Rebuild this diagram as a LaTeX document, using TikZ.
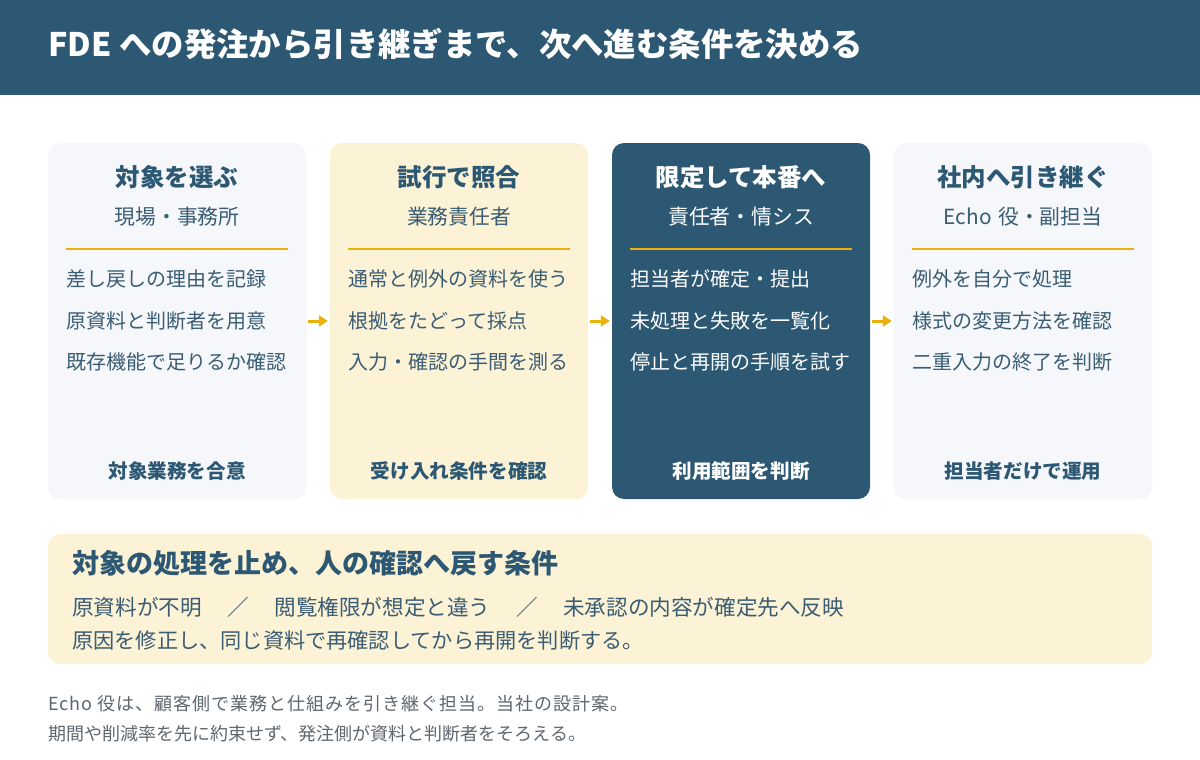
\documentclass[tikz,border=0pt]{standalone}
\usepackage{fontspec}
\setmainfont{Noto Sans CJK JP}
\newfontfamily\capone{Noto Sans CJK JP}[LetterSpace=5.5]
\usetikzlibrary{arrows.meta}
\definecolor{navy}{HTML}{2C5873}
\definecolor{txt}{HTML}{3A5D74}
\definecolor{light}{HTML}{F5F7FA}
\definecolor{cream}{HTML}{FCF2D6}
\definecolor{gold}{HTML}{E9B10A}
\definecolor{capc}{HTML}{5E666E}
\tikzset{
  panel/.style={rounded corners=12pt, minimum width=258pt, minimum height=356pt, inner sep=0pt, draw=none},
  ttl/.style={font=\fontsize{24.5}{29}\selectfont\bfseries, inner sep=0pt},
  sub/.style={font=\fontsize{20.8}{25}\selectfont, inner sep=0pt},
  item/.style={font=\fontsize{20}{24}\selectfont, anchor=west, inner sep=0pt},
  foot/.style={font=\fontsize{19.6}{23}\selectfont\bfseries, inner sep=0pt},
  rulel/.style={gold, line width=2pt},
  flow/.style={gold, line width=3pt, -{Triangle[length=9pt,width=11pt]}, shorten <=2pt, shorten >=2pt},
}
\begin{document}
\begin{tikzpicture}[x=1pt,y=-1pt]
\useasboundingbox[fill=white] (0,0) rectangle (1200,760);
% header
\fill[navy] (0,0) rectangle (1200,95);
\node[anchor=west, inner sep=0pt, text=white, font=\fontsize{32.4}{38}\selectfont\bfseries] (title) at (48,44) {FDE への発注から引き継ぎまで、次へ進む条件を決める};

% panels
\node[panel, fill=light] (b1) at (177,321) {};
\node[panel, fill=cream] (b2) at (459,321) {};
\node[panel, fill=navy] (b3) at (741,321) {};
\node[panel, fill=light] (b4) at (1023,321) {};

% column 1
\node[ttl, text=navy] (t1) at (177,177) {対象を選ぶ};
\node[sub, text=txt] (s1) at (177,217) {現場・事務所};
\draw[rulel] (66,249) -- (288,249);
\node[item, text=txt] (i11) at (66,279) {差し戻しの理由を記録};
\node[item, text=txt] (i12) at (66,321) {原資料と判断者を用意};
\node[item, text=txt] (i13) at (66,362) {既存機能で足りるか確認};
\node[foot, text=navy] (f1) at (177,471) {対象業務を合意};

% column 2
\node[ttl, text=navy] (t2) at (459,177) {試行で照合};
\node[sub, text=txt] (s2) at (459,217) {業務責任者};
\draw[rulel] (348,249) -- (570,249);
\node[item, text=txt] (i21) at (348,279) {通常と例外の資料を使う};
\node[item, text=txt] (i22) at (348,321) {根拠をたどって採点};
\node[item, text=txt] (i23) at (348,362) {入力・確認の手間を測る};
\node[foot, text=navy] (f2) at (459,471) {受け入れ条件を確認};

% column 3
\node[ttl, text=white] (t3) at (741,177) {限定して本番へ};
\node[sub, text=white] (s3) at (741,217) {責任者・情シス};
\draw[rulel] (630,249) -- (852,249);
\node[item, text=white] (i31) at (630,279) {担当者が確定・提出};
\node[item, text=white] (i32) at (630,321) {未処理と失敗を一覧化};
\node[item, text=white] (i33) at (630,362) {停止と再開の手順を試す};
\node[foot, text=white] (f3) at (741,471) {利用範囲を判断};

% column 4
\node[ttl, text=navy] (t4) at (1023,177) {社内へ引き継ぐ};
\node[sub, text=txt] (s4) at (1023,217) {Echo\hspace{2pt} 役・副担当};
\draw[rulel] (912,249) -- (1134,249);
\node[item, text=txt] (i41) at (912,279) {例外を自分で処理};
\node[item, text=txt] (i42) at (912,321) {様式の変更方法を確認};
\node[item, text=txt] (i43) at (912,362) {二重入力の終了を判断};
\node[foot, text=navy] (f4) at (1023,471) {担当者だけで運用};

% arrows
\draw[flow] (b1) -- (b2);
\draw[flow] (b2) -- (b3);
\draw[flow] (b3) -- (b4);

% warning box
\node[fill=cream, rounded corners=12pt, minimum width=1104pt, minimum height=130pt, inner sep=0pt] (warn) at (600,599) {};
\node[anchor=west, inner sep=0pt, text=navy, font=\fontsize{27}{31}\selectfont\bfseries] (wt) at (72,563) {対象の処理を止め、人の確認へ戻す条件};
\node[anchor=west, inner sep=0pt, text=txt, font=\fontsize{21.6}{25}\selectfont] (w1) at (72,607) {原資料が不明\hspace{4pt}　／　\hspace{4pt}閲覧権限が想定と違う\hspace{4pt}　／　\hspace{4pt}未承認の内容が確定先へ反映};
\node[anchor=west, inner sep=0pt, text=txt, font=\fontsize{21.2}{25}\selectfont] (w2) at (72,641) {原因を修正し、同じ資料で再確認してから再開を判断する。};

% caption
\node[anchor=west, inner sep=0pt, text=capc, font=\capone\fontsize{18}{21}\selectfont] (c1) at (48,704) {Echo 役は、顧客側で業務と仕組みを引き継ぐ担当。当社の設計案。};
\node[anchor=west, inner sep=0pt, text=capc, font=\fontsize{18}{21}\selectfont] (c2) at (48,734) {期間や削減率を先に約束せず、発注側が資料と判断者をそろえる。};
\end{tikzpicture}
\end{document}
